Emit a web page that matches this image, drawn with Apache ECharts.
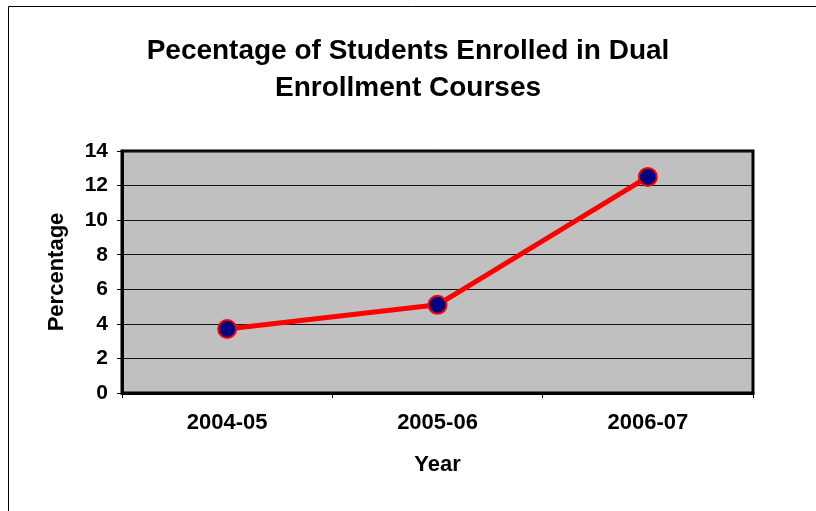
<!DOCTYPE html>
<html><head><meta charset="utf-8">
<script src="https://cdn.jsdelivr.net/npm/echarts@6/dist/echarts.min.js"></script>
<style>html,body{margin:0;padding:0;background:#fff}#c{width:816px;height:511px}</style>
</head><body><div id="c"></div>
<script>
const categories = ['2004-05', '2005-06', '2006-07'];
const percentages = [3.7, 5.1, 12.5];
const yTicks = [0, 2, 4, 6, 8, 10, 12, 14];

const chart = echarts.init(document.getElementById('c'));
const F = 'Liberation Sans, Arial, sans-serif';
chart.setOption({
  animation: false,
  backgroundColor: '#fff',
  graphic: [{
    type: 'rect', silent: true,
    shape: { x: 8.5, y: 6.5, width: 830, height: 530 },
    style: { fill: 'none', stroke: '#000', lineWidth: 1 }
  }],
  title: {
    text: 'Pecentage of Students Enrolled in Dual\nEnrollment Courses',
    left: 'center', top: 28,
    textStyle: { fontFamily: F, fontWeight: 'bold', fontSize: 28, lineHeight: 37, color: '#000' }
  },
  grid: {
    left: 122, top: 151, right: 63, bottom: 118,
    show: true, backgroundColor: '#C0C0C0', borderColor: '#000', borderWidth: 3
  },
  xAxis: {
    type: 'category', data: categories, boundaryGap: true,
    name: 'Year', nameLocation: 'middle', nameGap: 61,
    nameTextStyle: { fontFamily: F, fontWeight: 'bold', fontSize: 22, color: '#000' },
    axisLine: { lineStyle: { color: '#000', width: 3 } },
    axisTick: { show: true, inside: false, length: 5, lineStyle: { color: '#000' } },
    axisLabel: { fontFamily: F, fontWeight: 'bold', fontSize: 22, color: '#000', margin: 19 },
    splitLine: { show: false }
  },
  yAxis: {
    type: 'value', min: 0, max: 14, interval: 2,
    name: 'Percentage', nameLocation: 'middle', nameGap: 54, nameRotate: 90,
    nameTextStyle: { fontFamily: F, fontWeight: 'bold', fontSize: 22, color: '#000' },
    axisLine: { show: true, lineStyle: { color: '#000', width: 3 } },
    axisTick: { show: true, inside: false, length: 5, lineStyle: { color: '#000' } },
    axisLabel: { fontFamily: F, fontWeight: 'bold', fontSize: 21, color: '#000', margin: 14,
      formatter: v => yTicks.includes(v) ? String(v) : '' },
    splitLine: { show: true, lineStyle: { color: '#111', width: 1 } }
  },
  series: [{
    type: 'line', data: percentages,
    lineStyle: { color: '#FF0000', width: 5 },
    symbol: 'circle', symbolSize: 18,
    itemStyle: { color: '#000080', borderColor: '#FF0000', borderWidth: 2 },
    z: 3
  }]
});
</script></body></html>
